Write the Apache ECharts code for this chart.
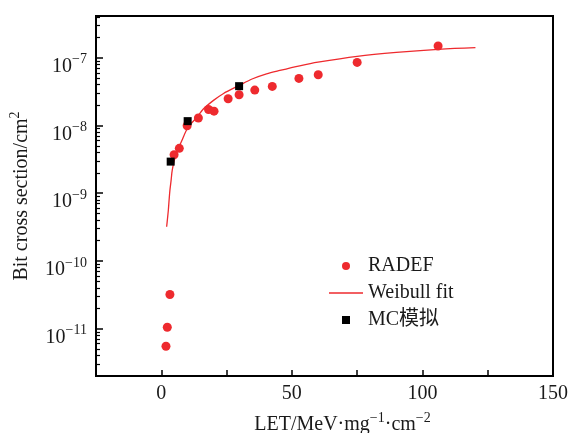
<!DOCTYPE html>
<html>
<head>
<meta charset="utf-8">
<script src="https://cdn.jsdelivr.net/npm/echarts@6/dist/echarts.min.js"></script>
<style>
    html, body { margin: 0; padding: 0; background: #fff; }
    #chart-container { width: 576px; height: 433px; }
</style>
</head>
<body>
<div id="chart-container"></div>
<script>
// RADEF measurements: LET and cross section
const radefLet = [1.8, 2.3, 3.3, 4.9, 6.9, 9.9, 14.2, 18.1, 20.2, 25.6, 29.8, 35.8, 42.5, 52.7, 60.1, 75.0, 106];
const radefSigma = [5.5e-12, 1.05e-11, 3.2e-11, 3.7e-9, 4.6e-9, 9.9e-9, 1.29e-8, 1.72e-8, 1.63e-8, 2.48e-8, 2.84e-8, 3.33e-8, 3.78e-8, 4.96e-8, 5.61e-8, 8.55e-8, 1.49e-7];

// MC simulation points
const mcLet = [3.6, 10.1, 29.8];
const mcSigma = [2.93e-9, 1.16e-8, 3.81e-8];

// Weibull fit curve
const fitLet = [2.05, 2.4, 2.7, 3.0, 3.3, 3.8, 4.2, 5.5, 7.8, 10.3, 13.5, 16.1, 20, 23.7, 29.8, 35, 40.3, 45.4, 53, 60, 75, 90, 106, 120.3];
const fitSigma = [3.2e-10, 4.3e-10, 5.6e-10, 8.0e-10, 1.1e-9, 1.6e-9, 2.2e-9, 3.6e-9, 5.9e-9, 9.5e-9, 1.3e-8, 1.75e-8, 2.35e-8, 2.95e-8, 3.9e-8, 4.9e-8, 5.8e-8, 6.5e-8, 7.6e-8, 8.6e-8, 1.05e-7, 1.2e-7, 1.33e-7, 1.41e-7];

// axis ticks
const yMajorTicks = [1e-11, 1e-10, 1e-9, 1e-8, 1e-7];
const xTicks = [0, 50, 100, 150];

const serif = "'Liberation Serif', 'DejaVu Serif', 'Noto Sans CJK SC', serif";
const red = '#ee2a2e';
const ink = '#1a1a1a';

const yMin = 2.0e-12, yMax = 4.14e-7;

// minor log ticks 2..9 in each decade
let yMinorTicks = [];
for (let d = -12; d <= -7; d++) {
    for (let k = 2; k <= 9; k++) {
        let v = k * Math.pow(10, d);
        if (v > yMin && v < yMax) yMinorTicks.push(v);
    }
}

const pair = (xs, ys) => xs.map((x, i) => [x, ys[i]]);

const richText = {
    t: { fontFamily: serif, fontSize: 20, color: ink, lineHeight: 24, verticalAlign: 'bottom' },
    s: { fontFamily: serif, fontSize: 14, color: ink, lineHeight: 14, verticalAlign: 'top' }
};

let myChart = echarts.init(document.getElementById('chart-container'));

let option = {
    animation: false,
    textStyle: { fontFamily: serif },
    grid: {
        left: 96, right: 23, top: 16, bottom: 57,
        show: true,
        borderColor: '#000',
        borderWidth: 2,
        containLabel: false,
        outerBoundsMode: 'none'
    },
    legend: {
        orient: 'vertical',
        left: 329,
        top: 255,
        padding: 0,
        itemWidth: 34,
        itemHeight: 8,
        itemGap: 5,
        itemTextGap: 9,
        symbolKeepAspect: true,
        textStyle: { fontFamily: serif, fontSize: 20, color: ink, lineHeight: 22 },
        data: [
            { name: 'RADEF', icon: 'circle' },
            { name: 'Weibull fit', icon: 'path://M0,0L34,0L34,1.4L0,1.4Z' },
            { name: 'MC模拟', icon: 'path://M0,0L10,0L10,10L0,10Z' }
        ]
    },
    xAxis: {
        type: 'value',
        min: -25,
        max: 150,
        interval: 25,
        splitLine: { show: false },
        axisLine: { onZero: false, lineStyle: { color: '#000', width: 2 } },
        axisTick: { inside: true, length: 6, lineStyle: { color: '#000', width: 1.5 } },
        axisLabel: {
            fontFamily: serif,
            fontSize: 20,
            color: ink,
            margin: 8,
            formatter: v => (xTicks.indexOf(v) >= 0 ? String(v) : '')
        },
        name: '{t|LET/MeV·mg}{s|−1}{t|·cm}{s|−2}',
        nameLocation: 'middle',
        nameGap: 35,
        nameTextStyle: {
            padding: [0, 0, 0, 36],
            rich: richText
        }
    },
    yAxis: [
        {
            type: 'log',
            min: yMin,
            max: yMax,
            splitLine: { show: false },
            axisLine: { onZero: false, lineStyle: { color: '#000', width: 2 } },
            axisTick: { inside: true, length: 7, customValues: yMajorTicks, lineStyle: { color: '#000', width: 1.5 } },
            axisLabel: {
                customValues: yMajorTicks,
                margin: 9,
                padding: [14, 0, 0, 0],
                formatter: v => '{t|10}{s|−' + (-Math.round(Math.log10(v))) + '}',
                rich: richText
            },
            name: '{t|Bit cross section/cm}{s|2}',
            nameLocation: 'middle',
            nameGap: 64,
            nameTextStyle: { rich: richText }
        },
        {
            type: 'log',
            min: yMin,
            max: yMax,
            position: 'left',
            splitLine: { show: false },
            axisLine: { show: false, onZero: false },
            axisTick: { inside: true, length: 4, customValues: yMinorTicks, lineStyle: { color: '#000', width: 1.2 } },
            axisLabel: { show: false }
        }
    ],
    series: [
        {
            name: 'RADEF',
            type: 'scatter',
            symbol: 'circle',
            symbolSize: 9,
            itemStyle: { color: red, opacity: 1 },
            data: pair(radefLet, radefSigma),
            z: 2
        },
        {
            name: 'Weibull fit',
            type: 'line',
            smooth: 0.3,
            symbol: 'none',
            lineStyle: { color: red, width: 1.3 },
            itemStyle: { color: red },
            data: pair(fitLet, fitSigma),
            z: 3
        },
        {
            name: 'MC模拟',
            type: 'scatter',
            symbol: 'rect',
            symbolSize: 8,
            itemStyle: { color: '#000', opacity: 1 },
            data: pair(mcLet, mcSigma),
            z: 4
        }
    ]
};

myChart.setOption(option);
</script>
</body>
</html>
